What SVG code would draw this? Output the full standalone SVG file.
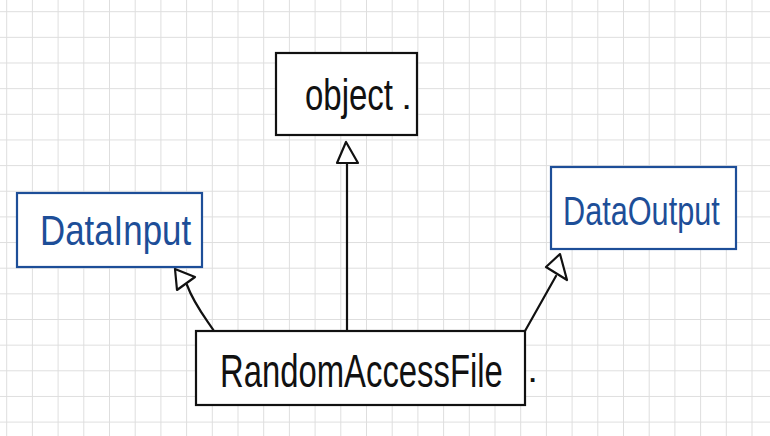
<svg xmlns="http://www.w3.org/2000/svg" width="770" height="436" viewBox="0 0 770 436">
<style>
.box{fill:#ffffff;stroke:#111111;stroke-width:2.2}
.bbox{fill:#ffffff;stroke:#1d4e98;stroke-width:2.2}
.lbl{font-family:"Liberation Sans","DejaVu Sans",sans-serif;fill:#111111}
.blbl{font-family:"Liberation Sans","DejaVu Sans",sans-serif;fill:#1d4e98}
.dot{font-family:"Liberation Sans","DejaVu Sans",sans-serif;fill:#111111;font-size:26px;font-weight:bold}
.edge{fill:none;stroke:#111111;stroke-width:2.2;stroke-linecap:round;stroke-linejoin:round}
.head{fill:#ffffff;stroke:#111111;stroke-width:2.2;stroke-linejoin:round}
</style>
<defs>
<pattern id="grid" patternUnits="userSpaceOnUse" x="6.2" y="11.2" width="25.7" height="25.65">
<path d="M0.5 0V25.65M0 0.5H25.7" fill="none" stroke="#dedede" stroke-width="1"/>
</pattern>
</defs>
<rect width="770" height="436" fill="#ffffff"/>
<rect width="770" height="436" fill="url(#grid)"/>
<g id="connectors">
<path class="edge" d="M347 331V163"/>
<path class="head" d="M346 142L337 163L358 163Z"/>
<path class="edge" d="M214 331C204 316 194 304 187 285"/>
<path class="head" d="M175 269L177 290L195 277Z"/>
<path class="edge" d="M525 331C535 313 546 294 556 276"/>
<path class="head" d="M560 254L546 267L567 280Z"/>
</g>
<g id="object">
<rect class="box" x="276" y="53" width="141" height="82"/>
<text class="lbl" font-size="44" transform="translate(305,110) scale(0.75,1)">object</text>
<text class="dot" x="403" y="109">.</text>
</g>
<g id="DataInput">
<rect class="bbox" x="17" y="193" width="185" height="74"/>
<text class="blbl" font-size="42" transform="translate(40,245) scale(0.83,1)">DataInput</text>
</g>
<g id="DataOutput">
<rect class="bbox" x="551" y="167" width="185" height="82"/>
<text class="blbl" font-size="40" transform="translate(563,225) scale(0.767,1)">DataOutput</text>
</g>
<g id="RandomAccessFile">
<rect class="box" x="196" y="331" width="329" height="74"/>
<text class="lbl" font-size="46" transform="translate(220,387) scale(0.714,1)">RandomAccessFile</text>
<text class="dot" x="529" y="382">.</text>
</g>
</svg>
